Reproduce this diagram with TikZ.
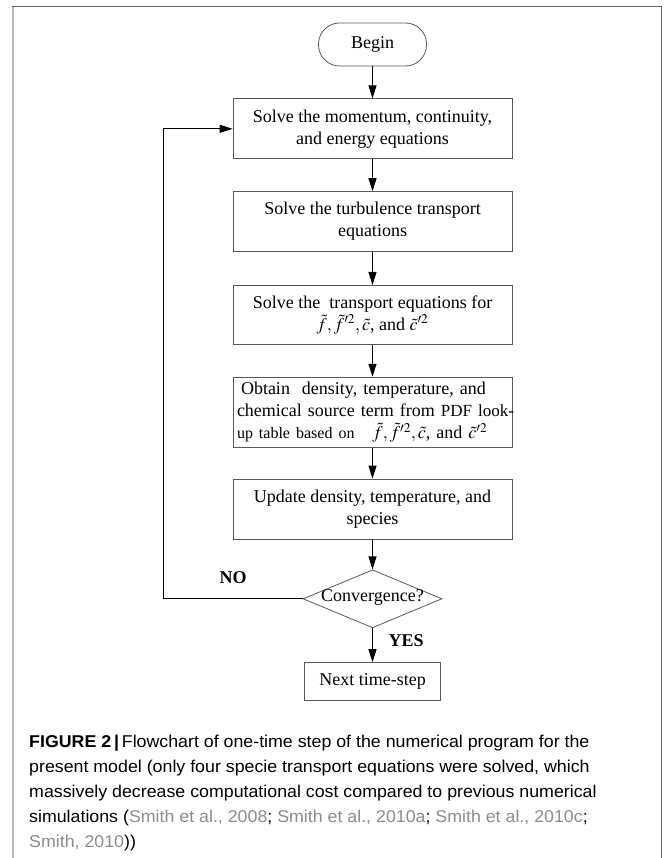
\documentclass[tikz,border=0pt]{standalone}
\usepackage{mathptmx}
\usepackage{fontspec}
\setmainfont{Liberation Serif}
\newfontfamily\capfont[FakeStretch=1.04]{Liberation Sans}
\usetikzlibrary{positioning,shapes.geometric,arrows.meta}
\definecolor{boxgray}{gray}{0.35}
\definecolor{framedark}{gray}{0.4}
\definecolor{framelight}{gray}{0.72}
\definecolor{citegray}{gray}{0.55}

\begin{document}
\begin{tikzpicture}[x=1pt,y=1pt,
	flow/.style={-{Triangle[length=13pt,width=8pt]},line width=1pt},
	procbox/.style={draw=boxgray,line width=0.8pt,minimum width=279pt,minimum height=60pt,
		align=center,inner sep=3pt,font=\fontsize{18}{22}\selectfont},
	startbox/.style={draw=boxgray,line width=0.8pt,rounded corners=21pt,minimum width=108pt,
		minimum height=43pt,font=\fontsize{18}{22}\selectfont},
	decbox/.style={draw=boxgray,line width=0.8pt,diamond,aspect=2.4,minimum width=139pt,minimum height=58pt,
		inner sep=0pt,text height=8pt,text depth=2pt,font=\fontsize{18}{22}\selectfont},
	lbl/.style={font=\fontsize{18}{22}\selectfont\bfseries}]
	\useasboundingbox (0,0) rectangle (663,-858);
	
	% frame
	\draw[framelight,line width=2pt] (13,-858) -- (13,-7);
	\draw[framedark,line width=1.5pt] (12,-6.5) -- (661.5,-6.5) -- (661.5,-858);
	
	\node[startbox] (begin) at (372.5,-44.5) {Begin};
	\node[procbox,below=32pt of begin] (momentum) {Solve the momentum, continuity,\\and energy equations};
	\node[procbox,below=32pt of momentum] (turb) {Solve the turbulence transport\\equations};
	\node[procbox,minimum height=59pt,below=33pt of turb] (transport) {Solve the~ transport equations for\\
		$\tilde{f},\tilde{f}'^2,\tilde{c}$, and $\tilde{c}'^2$};
	\node[procbox,minimum height=70pt,inner ysep=0pt,align=left,text width=271pt,below=32pt of transport] (lookup)
		{\hspace*{4pt}Obtain~ density, temperature, and\\
		\makebox[262pt][s]{chemical source term from {\fontsize{17}{22}\selectfont PDF look-}}\\
		{\fontsize{16}{22}\selectfont up table based on}\quad $\tilde{f},\tilde{f}'^2,\tilde{c}$,~and $\tilde{c}'^2$};
	\node[procbox,below=31pt of lookup] (update) {Update density, temperature, and\\species};
	\node[decbox,below=30pt of update] (conv) {\makebox[70pt]{Convergence?}};
	\node[procbox,minimum width=136pt,minimum height=38pt,below=34pt of conv] (next) {Next time-step};
	
	\coordinate (back) at (163,0);
	\node[lbl] (no) at (233,-578) {NO};
	\node[lbl,anchor=west] (yes) at (385,-641) {YES};
	
	\draw[flow] (begin) -- (momentum);
	\draw[flow] (momentum) -- (turb);
	\draw[flow] (turb) -- (transport);
	\draw[flow] (transport) -- (lookup);
	\draw[flow] (lookup) -- (update);
	\draw[flow] (update) -- (conv);
	\draw[flow] (conv) -- (next);
	\draw[flow] (conv.west) -- (conv.west -| back) |- (momentum.west);
	
	\node[anchor=north west,align=left,inner sep=0pt,font=\capfont\fontsize{17.1}{25}\selectfont] (caption) at (29,-735)
		{{\bfseries FIGURE 2\,|\,}Flowchart of one-time step of the numerical program for the\\
		present model (only four specie transport equations were solved, which\\
		massively decrease computational cost compared to previous numerical\\
		simulations ({\color{citegray}Smith et al., 2008}; {\color{citegray}Smith et al., 2010a}; {\color{citegray}Smith et al., 2010c};\\
		{\color{citegray}Smith, 2010}))};
\end{tikzpicture}
\end{document}
